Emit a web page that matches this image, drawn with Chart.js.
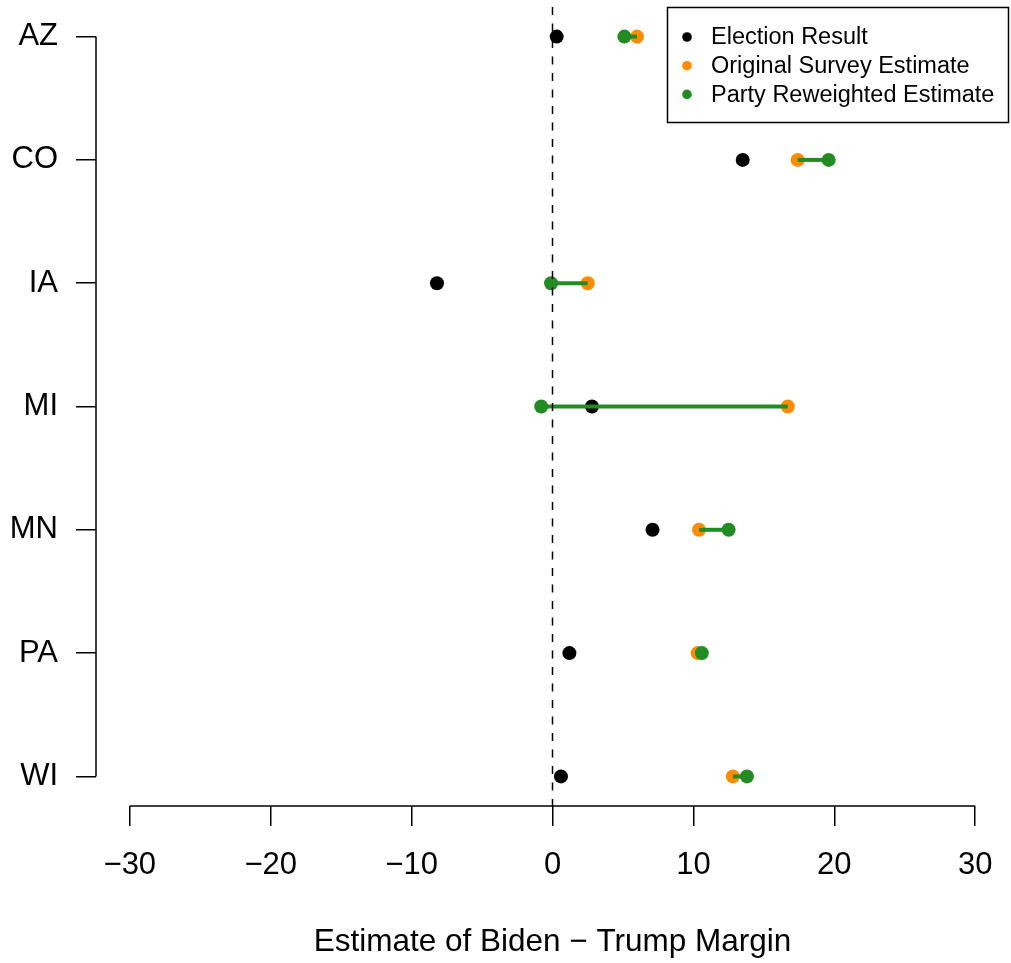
<!DOCTYPE html>
<html>
<head>
<meta charset="utf-8">
<script src="https://cdn.jsdelivr.net/npm/chart.js@4/dist/chart.umd.min.js"></script>
<style>
  body { margin: 0; background: #fff; }
  canvas { display: block; }
</style>
</head>
<body>
<canvas id="margin-chart" width="1011" height="963"></canvas>
<script>
// states, top to bottom
const states = ['AZ', 'CO', 'IA', 'MI', 'MN', 'PA', 'WI'];

// Biden - Trump margin, percentage points
const electionResult = [0.3, 13.5, -8.2, 2.8, 7.1, 1.2, 0.6];
const originalEstimate = [6.0, 17.4, 2.5, 16.7, 10.4, 10.3, 12.8];
const reweightedEstimate = [5.1, 19.6, -0.1, -0.8, 12.5, 10.6, 13.8];

const xTicks = [-30, -20, -10, 0, 10, 20, 30];

const seriesNames = ['Election Result', 'Original Survey Estimate', 'Party Reweighted Estimate'];
const colors = ['#000000', '#FF8C00', '#228B22'];

const FONT = '"Liberation Sans", Arial, Helvetica, sans-serif';

document.addEventListener("DOMContentLoaded", mainJs);

function mainJs(){
    const ctx = document.getElementById('margin-chart');

    const pts = (vals) => vals.map((v, i) => ({x: v, y: i + 1}));

    // one short segment per state, from original to reweighted estimate
    const segments = states.map((s, i) => ({
        type: 'line',
        label: 'seg ' + s,
        data: [{x: originalEstimate[i], y: i + 1}, {x: reweightedEstimate[i], y: i + 1}],
        borderColor: colors[2],
        borderWidth: 4,
        pointRadius: 0,
        fill: false,
        order: 1
    }));

    // axis lines only over the tick range, R style, plus dashed zero line
    const axesPlugin = {
        id: 'rAxes',
        beforeDatasetsDraw(chart){
            const c = chart.ctx, xs = chart.scales.x, ys = chart.scales.y, a = chart.chartArea;
            c.save();
            c.strokeStyle = '#000';
            c.lineWidth = 1.5;
            c.beginPath();
            c.moveTo(xs.getPixelForValue(xTicks[0]), a.bottom);
            c.lineTo(xs.getPixelForValue(xTicks[xTicks.length - 1]), a.bottom);
            c.moveTo(a.left, ys.getPixelForValue(1));
            c.lineTo(a.left, ys.getPixelForValue(states.length));
            c.stroke();
            c.restore();
        },
        afterDatasetsDraw(chart){
            const c = chart.ctx, xs = chart.scales.x, a = chart.chartArea;
            const x0 = xs.getPixelForValue(0);
            c.save();
            c.strokeStyle = '#000';
            c.lineWidth = 1.5;
            c.setLineDash([8, 8.5]);
            c.beginPath();
            c.moveTo(x0, a.top);
            c.lineTo(x0, a.bottom);
            c.stroke();
            c.restore();
        },
        afterDraw(chart){
            const c = chart.ctx, a = chart.chartArea;
            const w = 342, h = 116;
            const left = a.right - w, top = a.top;
            c.save();
            c.fillStyle = '#fff';
            c.fillRect(left, top, w, h);
            c.strokeStyle = '#000';
            c.lineWidth = 1.5;
            c.strokeRect(left + 0.5, top + 0.5, w - 1, h - 1);
            c.font = '23.5px ' + FONT;
            c.textBaseline = 'middle';
            c.textAlign = 'left';
            seriesNames.forEach((name, i) => {
                const yy = top + 30 + i * 28.7;
                c.fillStyle = colors[i];
                c.beginPath();
                c.arc(left + 20, yy, 4.8, 0, Math.PI * 2);
                c.fill();
                c.fillStyle = '#000';
                c.fillText(name, left + 44, yy + 1);
            });
            c.restore();
        }
    };

    new Chart(ctx, {
        type: 'scatter',
        data: {
            datasets: [
                {
                    label: seriesNames[2],
                    data: pts(reweightedEstimate),
                    backgroundColor: colors[2],
                    borderWidth: 0,
                    pointRadius: 7,
                    order: 0
                },
                ...segments,
                {
                    label: seriesNames[1],
                    data: pts(originalEstimate),
                    backgroundColor: colors[1],
                    borderWidth: 0,
                    pointRadius: 7,
                    order: 2
                },
                {
                    label: seriesNames[0],
                    data: pts(electionResult),
                    backgroundColor: colors[0],
                    borderWidth: 0,
                    pointRadius: 7,
                    order: 3
                }
            ]
        },
        options: {
            responsive: false,
            animation: false,
            events: [],
            layout: { autoPadding: false, padding: { top: 7, right: 2, left: 0, bottom: 0 } },
            plugins: {
                legend: { display: false },
                tooltip: { enabled: false }
            },
            scales: {
                x: {
                    type: 'linear',
                    min: -32.4,
                    max: 32.4,
                    afterBuildTicks(scale){
                        scale.ticks = xTicks.map(v => ({value: v}));
                    },
                    afterFit(scale){
                        scale.height = 157;
                        scale.paddingLeft = 0;
                        scale.paddingRight = 0;
                    },
                    ticks: {
                        color: '#000',
                        font: { family: FONT, size: 31 },
                        padding: 21,
                        maxRotation: 0,
                        autoSkip: false,
                        callback: (v) => v < 0 ? '\u2212' + Math.abs(v) : String(v)
                    },
                    grid: {
                        display: true,
                        drawOnChartArea: false,
                        drawTicks: true,
                        tickLength: 20,
                        color: '#000',
                        lineWidth: 1.5
                    },
                    border: { display: false },
                    title: {
                        display: true,
                        text: 'Estimate of Biden \u2212 Trump Margin',
                        color: '#000',
                        font: { family: FONT, size: 31.5 },
                        padding: { top: 0, bottom: 2 }
                    }
                },
                y: {
                    type: 'linear',
                    reverse: true,
                    min: 0.76,
                    max: 7.24,
                    afterBuildTicks(scale){
                        scale.ticks = states.map((s, i) => ({value: i + 1}));
                    },
                    afterFit(scale){
                        scale.width = 96;
                        scale.paddingTop = 0;
                        scale.paddingBottom = 0;
                    },
                    ticks: {
                        color: '#000',
                        font: { family: FONT, size: 31 },
                        padding: 18,
                        autoSkip: false,
                        callback: (v) => states[v - 1]
                    },
                    grid: {
                        display: true,
                        drawOnChartArea: false,
                        drawTicks: true,
                        tickLength: 20,
                        color: '#000',
                        lineWidth: 1.5
                    },
                    border: { display: false }
                }
            }
        },
        plugins: [axesPlugin]
    });
}
</script>
</body>
</html>
